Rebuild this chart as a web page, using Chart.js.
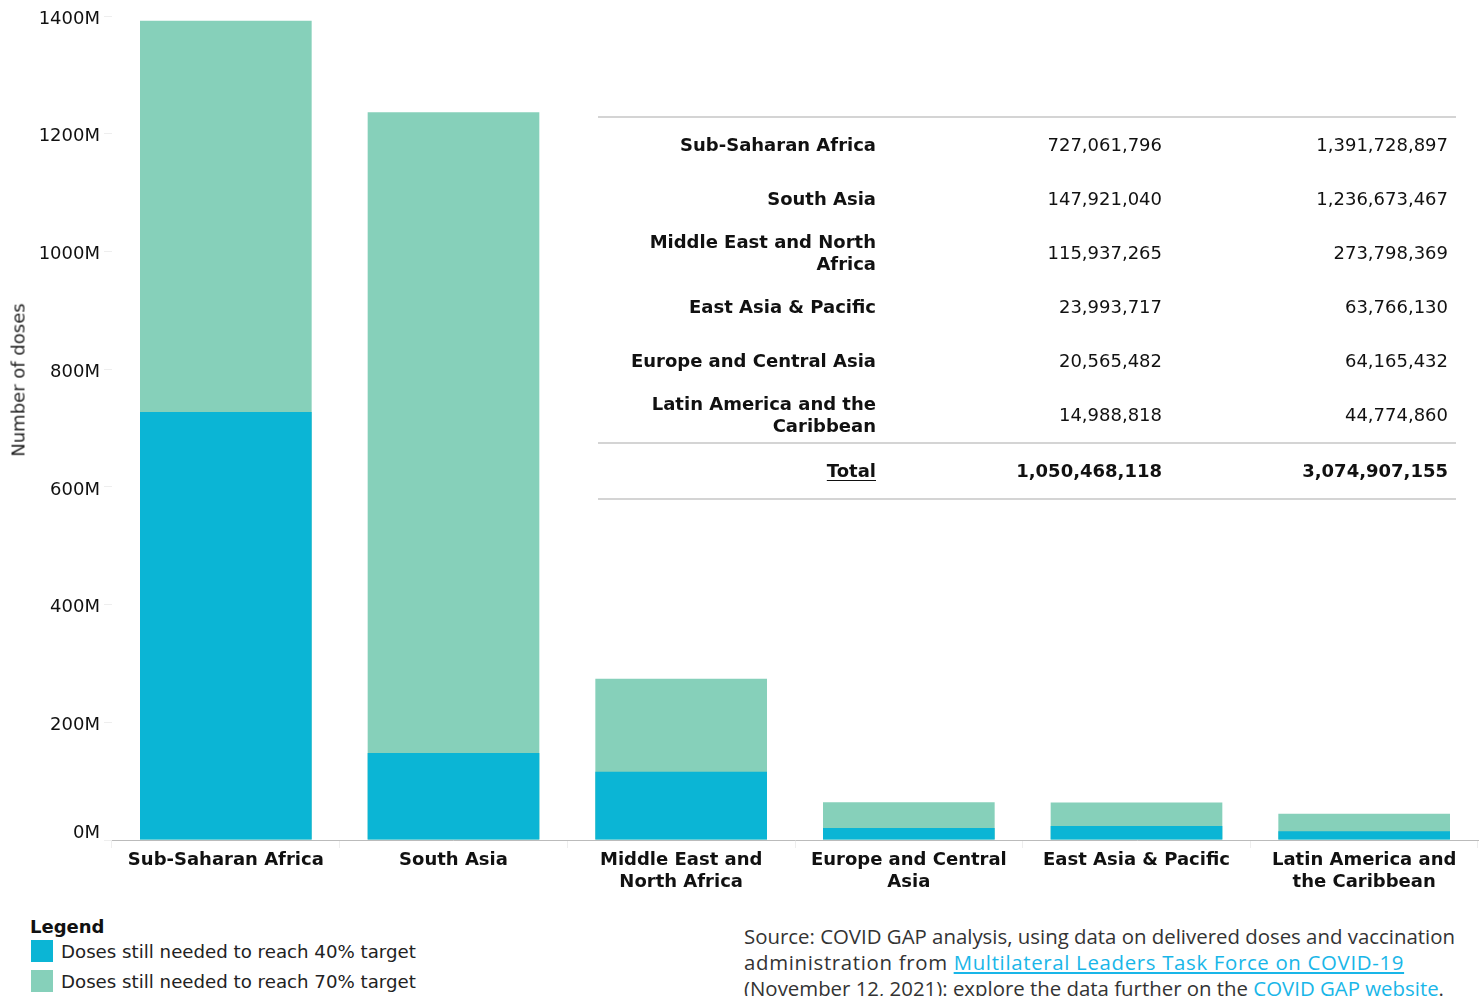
<!DOCTYPE html>
<html>
<head>
<meta charset="utf-8">
<script src="https://cdn.jsdelivr.net/npm/chart.js@4"></script>
<style>
  html, body { margin: 0; padding: 0; background: #fff; width: 1484px; height: 996px; overflow: hidden; }
  #wrap { position: absolute; left: 0; top: 0; width: 1484px; height: 900px; }
  #ytitle { position: absolute; left: 18px; top: 380px; transform: translate(-50%, -50%) rotate(-90deg);
    font: 18px "DejaVu Sans"; color: #222; white-space: nowrap; }
  #tbl { position: absolute; left: 598px; top: 116px; width: 858px; border-collapse: collapse;
    font: 18px "DejaVu Sans"; color: #111; }
  #tbl td { height: 54px; padding: 0 8px 0 0; text-align: right; vertical-align: middle; width: 278px; line-height: 22px; }
  #tbl td.lab { font-weight: bold; }
  #tbl tr.first td { border-top: 2px solid #d4d4d4; }
  #tbl tr.total td { border-top: 2px solid #d4d4d4; border-bottom: 2px solid #d4d4d4; font-weight: bold; }
  #tbl tr.total td.lab span { text-decoration: underline; text-underline-offset: 3px; }
  #legend { position: absolute; left: 30px; top: 916px; font: 18.2px "DejaVu Sans"; color: #222; }
  #legend .t { font-weight: bold; color: #111; font-size: 18px; margin-bottom: -1px; }
  #legend .it { display: flex; align-items: center; height: 30px; }
  #legend .sw { width: 22px; height: 22px; margin-right: 8px; margin-left: 1px; }
  #source { position: absolute; left: 744px; top: 923px; width: 740px; font: 20.4px "Open Sans"; color: #333; line-height: 26px; white-space: nowrap; }
  #source a { color: #19b6e8; text-decoration: underline; }
  #source .l2 { letter-spacing: 0.67px; }
</style>
</head>
<body>
<div id="wrap"><canvas id="c"></canvas></div>
<div id="ytitle">Number of doses</div>
<table id="tbl"></table>
<div id="legend">
  <div class="t">Legend</div>
  <div class="it"><div class="sw" id="sw1"></div><span id="lg1"></span></div>
  <div class="it"><div class="sw" id="sw2"></div><span id="lg2"></span></div>
</div>
<div id="source">Source: COVID GAP analysis, using data on delivered doses and vaccination<br><span class="l2">administration from <a>Multilateral Leaders Task Force on COVID-19</a></span><br>(November 12, 2021): explore the data further on the <a>COVID GAP website</a>.</div>
<script>
// ---- data ----
const categories = [
  ["Sub-Saharan Africa"],
  ["South Asia"],
  ["Middle East and", "North Africa"],
  ["Europe and Central", "Asia"],
  ["East Asia & Pacific"],
  ["Latin America and", "the Caribbean"]
];
const dose40 = [727061796, 147921040, 115937265, 20565482, 23993717, 14988818];
const dose70 = [1391728897, 1236673467, 273798369, 64165432, 63766130, 44774860];
const seriesNames = ["Doses still needed to reach 40% target", "Doses still needed to reach 70% target"];
const yTicks = [0, 200e6, 400e6, 600e6, 800e6, 1000e6, 1200e6, 1400e6];

const tableRegions = ["Sub-Saharan Africa", "South Asia", ["Middle East and North", "Africa"], "East Asia & Pacific", "Europe and Central Asia", ["Latin America and the", "Caribbean"]];
const table40 = ["727,061,796", "147,921,040", "115,937,265", "23,993,717", "20,565,482", "14,988,818"];
const table70 = ["1,391,728,897", "1,236,673,467", "273,798,369", "63,766,130", "64,165,432", "44,774,860"];
const totalLabel = "Total";
const total40 = "1,050,468,118";
const total70 = "3,074,907,155";

const colors = ["#0bb5d5", "#86d0ba"];

// ---- html pieces ----
document.getElementById("sw1").style.background = colors[0];
document.getElementById("sw2").style.background = colors[1];
document.getElementById("lg1").textContent = seriesNames[0];
document.getElementById("lg2").textContent = seriesNames[1];

const tbl = document.getElementById("tbl");
tableRegions.forEach((r, i) => {
  const tr = document.createElement("tr");
  if (i === 0) tr.className = "first";
  const l = document.createElement("td"); l.className = "lab";
  if (Array.isArray(r)) { l.innerHTML = r.join("<br>"); } else { l.textContent = r; }
  const a = document.createElement("td"); a.textContent = table40[i];
  const b = document.createElement("td"); b.textContent = table70[i];
  tr.append(l, a, b); tbl.appendChild(tr);
});
{
  const tr = document.createElement("tr"); tr.className = "total";
  const l = document.createElement("td"); l.className = "lab";
  const s = document.createElement("span"); s.textContent = totalLabel; l.appendChild(s);
  const a = document.createElement("td"); a.textContent = total40;
  const b = document.createElement("td"); b.textContent = total70;
  tr.append(l, a, b); tbl.appendChild(tr);
}

// shift the "0M" label upward like the reference
const zeroLabelShift = {
  id: "zeroLabelShift",
  beforeDraw(chart) {
    const y = chart.scales.y;
    const items = y.getLabelItems(chart.chartArea);
    items.forEach(it => {
      if (it.label === "0M" && !it._shifted) {
        it.options.translation[1] -= 10;
        it._shifted = true;
      }
    });
  }
};

// ---- chart ----
Chart.defaults.font.family = "'DejaVu Sans'";
Chart.defaults.color = "#111";
new Chart(document.getElementById("c"), {
  type: "bar",
  data: {
    labels: categories,
    datasets: [
      { label: seriesNames[0], data: dose40, backgroundColor: colors[0], grouped: false, barPercentage: 0.754, categoryPercentage: 1, order: 0 },
      { label: seriesNames[1], data: dose70, backgroundColor: colors[1], grouped: false, barPercentage: 0.754, categoryPercentage: 1, order: 1 }
    ]
  },
  plugins: [zeroLabelShift],
  options: {
    responsive: true,
    maintainAspectRatio: false,
    animation: false,
    layout: { padding: { top: 16, right: 6, left: 0, bottom: 0 } },
    plugins: { legend: { display: false }, tooltip: { enabled: false } },
    scales: {
      x: {
        grid: { display: true, drawOnChartArea: false, drawTicks: true, tickLength: 8, color: "#eeeeee", offset: true },
        border: { display: true, color: "#bbbbbb", dash: [2, 2], width: 1 },
        ticks: { font: { size: 18, weight: "bold", lineHeight: 1.22 }, color: "#111", padding: 1, maxRotation: 0, autoSkip: false },
        afterFit: (s) => { s.height = 60; }
      },
      y: {
        min: 0, max: 1400e6,
        afterBuildTicks: (s) => { s.ticks = yTicks.map(v => ({ value: v })); },
        grid: { display: true, drawOnChartArea: false, drawTicks: true, tickLength: 8, color: "#eeeeee" },
        border: { display: false },
        ticks: { font: { size: 18 }, color: "#111", padding: 4, labelOffset: 3, callback: (v) => (v / 1e6) + "M" },
        afterFit: (s) => { s.width = 112; }
      }
    }
  }
});
</script>
</body>
</html>
